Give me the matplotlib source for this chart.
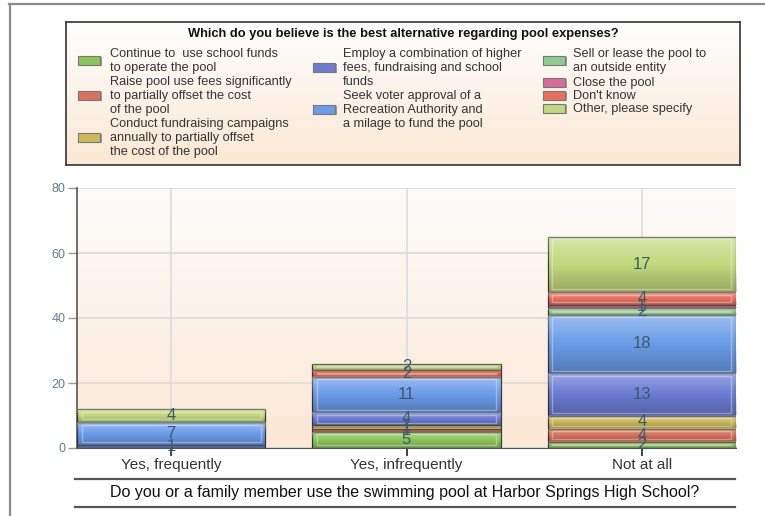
import matplotlib
matplotlib.use('Agg')
import matplotlib.pyplot as plt
import numpy as np
from matplotlib.colors import LinearSegmentedColormap
from matplotlib.lines import Line2D
from matplotlib.patches import Rectangle

plt.rcParams['font.family'] = ['Liberation Sans', 'DejaVu Sans']

W, H = 765, 516

# ------ data -----
categories = ['Yes, frequently', 'Yes, infrequently', 'Not at all']

continue_funds = [0, 5, 2]
raise_fees = [0, 1, 4]
fundraising = [0, 1, 4]
combination = [1, 4, 13]
voter_approval = [7, 11, 18]
sell_lease = [0, 0, 2]
close_pool = [0, 0, 1]
dont_know = [0, 2, 4]
other = [4, 2, 17]

series_labels = [
    'Continue to  use school funds\nto operate the pool',
    'Raise pool use fees significantly\nto partially offset the cost\nof the pool',
    'Conduct fundraising campaigns\nannually to partially offset\nthe cost of the pool',
    'Employ a combination of higher\nfees, fundraising and school\nfunds',
    'Seek voter approval of a\nRecreation Authority and\na milage to fund the pool',
    'Sell or lease the pool to\nan outside entity',
    'Close the pool',
    "Don't know",
    'Other, please specify',
]
series_colors = ['#8cc65a', '#d9735e', '#cdb95c', '#6b7cd2', '#6a9ce8',
                 '#8fcc8f', '#d96b9b', '#ea6f5c', '#c2d87c']
title = 'Which do you believe is the best alternative regarding pool expenses?'
xlabel = 'Do you or a family member use the swimming pool at Harbor Springs High School?'
# -----------------

series = [continue_funds, raise_fees, fundraising, combination, voter_approval,
          sell_lease, close_pool, dont_know, other]


def fx(x):
    return x / W


def fy(y):
    return 1 - y / H


fig = plt.figure(figsize=(W / 100, H / 100), dpi=100)
fig.patch.set_facecolor('white')

# outer frame
fig.add_artist(Line2D([fx(9), 1], [fy(4), fy(4)], color='#8a8a8a', lw=1.6))
fig.add_artist(Line2D([fx(10), fx(10)], [fy(4), 0], color='#8a8a8a', lw=1.6))

# ---- main plot ----
ax = fig.add_axes([fx(77), fy(448), fx(736) - fx(77), fy(188) - fy(448)])
X = np.arange(len(categories))

bg = LinearSegmentedColormap.from_list('bg', ['#fdfcfa', '#fbe8d5'])
ax.imshow(np.linspace(0, 1, 256).reshape(-1, 1), cmap=bg, aspect='auto',
          extent=[-0.4, 2.4, 0, 80], origin='upper', zorder=0)

ax.set_yticks([0, 20, 40, 60, 80])
ax.grid(True, color='#dcdcdc', linewidth=1.2, zorder=1)

# bar shading overlay (light top, darker bottom)
shade = np.zeros((64, 1, 4))
t = np.linspace(0, 1, 64)
shade[:, 0, :3] = np.where(t[:, None] < 0.5, 1.0, 0.0)
shade[:, 0, 3] = np.where(t < 0.5, 0.35 * (1 - t / 0.5), 0.22 * (t - 0.5) / 0.5)

bottom = np.zeros(len(categories))
for vals, col in zip(series, series_colors):
    bars = ax.bar(X, vals, width=0.8, bottom=bottom, color=col,
                  edgecolor='#3a3a3a', linewidth=0.9, zorder=3)
    for p, v in zip(bars.patches, vals):
        if v == 0:
            continue
        x0, y0 = p.get_x(), p.get_y()
        w, h = p.get_width(), p.get_height()
        im = ax.imshow(shade, aspect='auto', zorder=3.5,
                       extent=[x0, x0 + w, y0, y0 + h])
        im.set_clip_path(p)
        # inner bevel outline
        if h >= 2:
            dx, dy = 0.02, 0.8
            ax.add_patch(Rectangle((x0 + dx, y0 + dy), w - 2 * dx, h - 2 * dy,
                                   facecolor='none', edgecolor=(1, 1, 1, 0.35),
                                   linewidth=1.0, zorder=3.6))
    ax.bar_label(bars, labels=[str(v) if v else '' for v in vals],
                 label_type='center', color='#3d5a6a', fontsize=12, zorder=5)
    bottom += np.array(vals)

ax.set_xlim(-0.4, 2.4)
ax.set_ylim(0, 80)
ax.set_xticks(X)
ax.set_xticklabels(categories, fontsize=11, color='#333333')
ax.tick_params(axis='x', length=6, width=1.2, color='#222222', pad=1.5)
ax.tick_params(axis='y', length=6.5, width=1, color='#999999', labelcolor='#5f7f9a',
               labelsize=9, pad=2)
ax.spines['top'].set_visible(False)
ax.spines['right'].set_visible(False)
ax.spines['left'].set_color('#555555')
ax.spines['bottom'].set_color('#555555')
ax.spines['left'].set_linewidth(1.2)

# category axis title with rules
fig.add_artist(Line2D([fx(75), fx(735)], [fy(479), fy(479)], color='#555555', lw=1.6))
fig.add_artist(Line2D([fx(75), fx(735)], [fy(507), fy(507)], color='#555555', lw=1.6))
fig.text(fx(405), fy(493), xlabel, ha='center', va='center', fontsize=11.5,
         color='#111111')

# ---- legend box ----
lax = fig.add_axes([fx(66), fy(165), fx(740) - fx(66), fy(22) - fy(165)])
lax.set_xlim(66, 740)
lax.set_ylim(165, 22)
lbg = LinearSegmentedColormap.from_list('lbg', ['#fefefe', '#fbe8d4'])
lax.imshow(np.linspace(0, 1, 256).reshape(-1, 1), cmap=lbg, aspect='auto',
           extent=[66, 740, 165, 22], origin='upper', zorder=0)
lax.set_xticks([])
lax.set_yticks([])
for s in lax.spines.values():
    s.set_color('#333333')
    s.set_linewidth(1.2)

lax.text(403, 34, title, ha='center', va='center', fontsize=9.3,
         fontweight='bold', color='#111111')

# column x for swatch and text, entry center y
leg_layout = [
    (78, 110, 60), (78, 110, 95), (78, 110, 137),
    (313, 343, 67), (313, 343, 109),
    (543, 573, 60), (543, 573, 82), (543, 573, 95), (543, 573, 108),
]
for (xs, xt, yc), lbl, col in zip(leg_layout, series_labels, series_colors):
    lax.add_patch(Rectangle((xs + 1.5, yc - 3), 22, 9, facecolor='#9a9a9a',
                            edgecolor='none', zorder=2))
    lax.add_patch(Rectangle((xs, yc - 4.5), 22, 9, facecolor=col,
                            edgecolor='#777777', linewidth=0.8, zorder=3))
    lax.text(xt, yc + 1, lbl, ha='left', va='center', fontsize=9.2,
             color='#333333', linespacing=1.18, zorder=4)

fig.savefig('out.png', dpi=100)
